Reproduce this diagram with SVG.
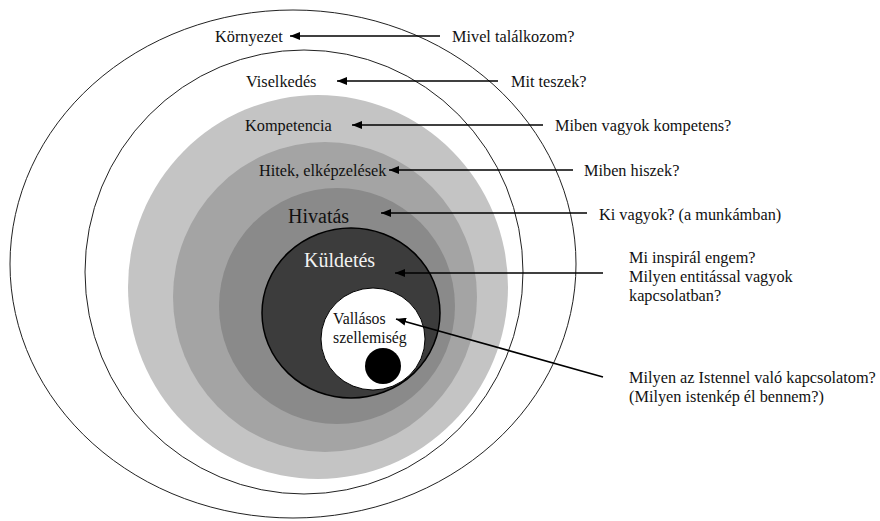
<svg xmlns="http://www.w3.org/2000/svg" width="880" height="521" viewBox="0 0 880 521" font-family="'Liberation Serif', 'DejaVu Serif', serif">
<defs>
<marker id="ah" markerWidth="10" markerHeight="8" refX="10" refY="4" orient="auto" markerUnits="userSpaceOnUse">
<path d="M0,0 L10,4 L0,8 Z" fill="#000"/>
</marker>
<style>
.s{font-size:16.3px;fill:#111;}
.v{font-size:15.8px;fill:#111;}
.b{font-size:20px;fill:#111;}
.w{fill:#f2f2f2;}
.c{stroke:#000;stroke-width:1.6;fill:none;marker-end:url(#ah);}
</style>
</defs>
<rect width="880" height="521" fill="#fff"/>
<g id="kornyezet">
<ellipse cx="293" cy="264" rx="283" ry="254" fill="#fff" stroke="#222" stroke-width="1"/>
<text class="s" x="215" y="42" font-family="Liberation Serif, serif">Környezet</text>
</g>
<g id="viselkedes">
<ellipse cx="304" cy="272" rx="219" ry="222" fill="#fff" stroke="#222" stroke-width="1"/>
<text class="s" x="246" y="87" font-family="Liberation Serif, serif">Viselkedés</text>
</g>
<g id="kompetencia">
<ellipse cx="318" cy="287" rx="190" ry="192" fill="#c4c4c4"/>
<text class="s" x="245" y="131" font-family="Liberation Serif, serif">Kompetencia</text>
</g>
<g id="hitek">
<ellipse cx="325" cy="297" rx="152" ry="155" fill="#a4a4a4"/>
<text class="s" x="259" y="176" font-family="Liberation Serif, serif">Hitek, elképzelések</text>
</g>
<g id="hivatas">
<ellipse cx="337" cy="306" rx="118" ry="118" fill="#8a8a8a"/>
<text class="b" x="288" y="223" font-family="Liberation Serif, serif">Hivatás</text>
</g>
<g id="kuldetes">
<ellipse cx="351" cy="313" rx="89" ry="85" fill="#3c3c3c" stroke="#000" stroke-width="1.5"/>
<text class="b w" x="304" y="267" font-family="Liberation Serif, serif">Küldetés</text>
</g>
<g id="vallasos">
<ellipse cx="373" cy="339" rx="52" ry="51" fill="#fff" stroke="#000" stroke-width="1"/>
<circle cx="383" cy="366" r="18" fill="#000"/>
<text class="v" x="333" y="324" font-family="Liberation Serif, serif">Vallásos</text>
<text class="v" x="333" y="343" font-family="Liberation Serif, serif">szellemiség</text>
</g>
<g id="questions" font-family="Liberation Serif, serif">
<text class="s" x="452" y="42">Mivel találkozom?</text>
<text class="s" x="511" y="87">Mit teszek?</text>
<text class="s" x="555" y="131">Miben vagyok kompetens?</text>
<text class="s" x="584" y="176">Miben hiszek?</text>
<text class="s" x="599" y="220">Ki vagyok? (a munkámban)</text>
<text class="s" x="629" y="263">Mi inspirál engem?</text>
<text class="s" x="629" y="282">Milyen entitással vagyok</text>
<text class="s" x="629" y="301">kapcsolatban?</text>
<text class="s" x="629" y="383">Milyen az Istennel való kapcsolatom?</text>
<text class="s" x="629" y="402">(Milyen istenkép él bennem?)</text>
</g>
<g id="connectors">
<line class="c" x1="440" y1="36" x2="290" y2="36"/>
<line class="c" x1="498" y1="81" x2="337" y2="81"/>
<line class="c" x1="543" y1="125" x2="352" y2="125"/>
<line class="c" x1="573" y1="170" x2="389" y2="170"/>
<line class="c" x1="587" y1="213" x2="381" y2="213"/>
<line class="c" x1="603" y1="273" x2="395" y2="273"/>
<line class="c" x1="603" y1="377" x2="396" y2="319"/>
</g>
</svg>
